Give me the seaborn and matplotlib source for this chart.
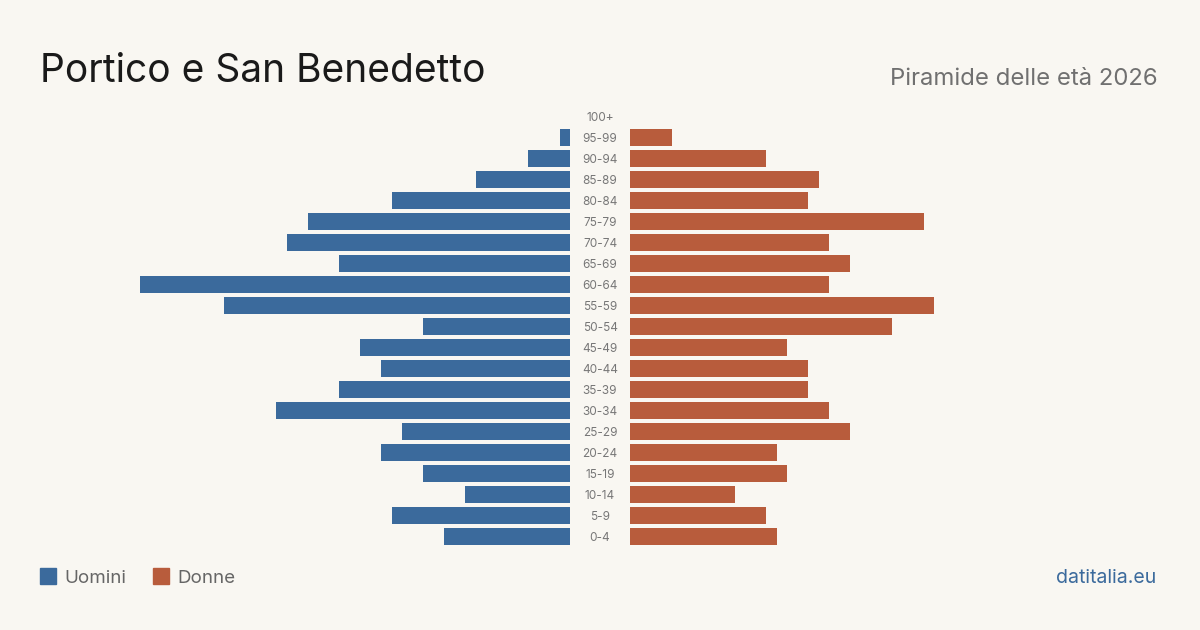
import matplotlib
matplotlib.use("Agg")
import matplotlib.pyplot as plt
import seaborn as sns
import pandas as pd

ages = ["100+", "95-99", "90-94", "85-89", "80-84", "75-79", "70-74", "65-69",
        "60-64", "55-59", "50-54", "45-49", "40-44", "35-39", "30-34", "25-29",
        "20-24", "15-19", "10-14", "5-9", "0-4"]
uomini = [0, 1, 4, 9, 17, 25, 27, 22, 41, 33, 14, 20, 18, 22, 28, 16, 18, 14, 10, 17, 12]
donne = [0, 4, 13, 18, 17, 28, 19, 21, 19, 29, 25, 15, 17, 17, 19, 21, 14, 15, 10, 13, 14]

BG = "#f9f7f2"
BLUE = "#3b6a9c"
RED = "#b85c3c"

sns.set_theme(style="white")
plt.rcParams["font.family"] = ["Inter", "DejaVu Sans"]

df_m = pd.DataFrame({"age": ages, "val": uomini})
df_f = pd.DataFrame({"age": ages, "val": donne})

W, H = 1200, 630
fig = plt.figure(figsize=(12, 6.3), dpi=100, facecolor=BG)

px_per_unit = 10.49
top_px, bot_px = 106.5, 546.5
axw_px = 470
axL = fig.add_axes([(570 - axw_px) / W, 1 - bot_px / H, axw_px / W, (bot_px - top_px) / H])
axR = fig.add_axes([630 / W, 1 - bot_px / H, axw_px / W, (bot_px - top_px) / H])

sns.barplot(data=df_m, x="val", y="age", orient="h", color=BLUE, width=0.81,
            saturation=1, linewidth=0, ax=axL)
sns.barplot(data=df_f, x="val", y="age", orient="h", color=RED, width=0.81,
            saturation=1, linewidth=0, ax=axR)

xmax = axw_px / px_per_unit
axL.set_xlim(xmax, 0)
axR.set_xlim(0, xmax)
for ax in (axL, axR):
    ax.set_facecolor("none")
    ax.set_ylim(len(ages) - 0.5, -0.5)
    ax.set_xlabel("")
    ax.set_ylabel("")
    ax.set_xticks([])
    ax.set_yticks([])
    for s in ax.spines.values():
        s.set_visible(False)

for i, a in enumerate(ages):
    axR.text(-30 / px_per_unit, i, a, ha="center", va="center_baseline", fontsize=8.5,
             color="#777777")

fig.text(40 / W, 1 - 82 / H, "Portico e San Benedetto", fontsize=28,
         color="#1a1a1a", ha="left", va="baseline")
fig.text(1158 / W, 1 - 85 / H, "Piramide delle età 2026", fontsize=17.2,
         color="#707070", ha="right", va="baseline")

# legend
fig.patches.append(plt.Rectangle((40 / W, 1 - 584 / H), 16 / W, 16 / H,
                                 transform=fig.transFigure, color=BLUE))
fig.text(64 / W, 1 - 583 / H, "Uomini", fontsize=13.5, color="#666666",
         ha="left", va="baseline")
fig.patches.append(plt.Rectangle((153 / W, 1 - 584 / H), 16 / W, 16 / H,
                                 transform=fig.transFigure, color=RED))
fig.text(177 / W, 1 - 583 / H, "Donne", fontsize=13.5, color="#666666",
         ha="left", va="baseline")

fig.text(1156 / W, 1 - 583 / H, "datitalia.eu", fontsize=14, color=BLUE,
         ha="right", va="baseline")

fig.savefig("out.png", dpi=100, facecolor=BG)
